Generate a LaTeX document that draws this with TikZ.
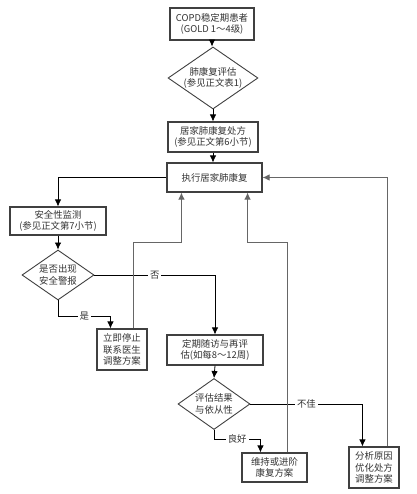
\documentclass[tikz,border=0pt]{standalone}
\usepackage{fontspec}
\setmainfont{Noto Sans CJK SC}
\usetikzlibrary{arrows.meta,shapes.geometric,calc}
\begin{document}
\begin{tikzpicture}[x=1pt,y=-1pt,
  every node/.style={font=\fontsize{9.4}{11.8}\selectfont, text=black!80, align=center, inner sep=0pt},
  box/.style={draw=black!75, line width=1.1pt, fill=white, minimum width=#1},
  box/.default=90pt,
  dia/.style={draw=black!75, line width=0.9pt, diamond, aspect=1.45, fill=white},
  ln/.style={draw=black, line width=0.8pt},
  fb/.style={draw=black!60, line width=0.9pt},
  arr/.style={-{Latex[length=7pt,width=6.5pt]}},
  lbl/.style={fill=white, inner xsep=2pt, inner ysep=1pt}
]
\useasboundingbox (0,0) rectangle (416,494);

\node[box=84pt, minimum height=32pt] (n1) at (212,24) {COPD稳定期患者\\(GOLD 1～4级)};
\node[dia, minimum width=87pt, minimum height=56pt] (d1) at (213,78) {肺康复评估\\(参见正文表1)};
\node[box=90pt, minimum height=30pt] (n3) at (213,137) {居家肺康复处方\\(参见正文第6小节)};
\node[box=95pt, minimum height=29pt] (n4) at (214.5,177.5) {执行居家肺康复};
\node[box=96pt, minimum height=28pt] (n5) at (58,221) {安全性监测\\(参见正文第7小节)};
\node[dia, minimum width=72pt, minimum height=50pt] (d2) at (58,275) {是否出现\\安全警报};
\node[box=50pt, minimum height=41pt] (n6) at (122,349.5) {立即停止\\联系医生\\调整方案};
\node[box=96pt, minimum height=30pt] (n7) at (215,350) {定期随访与再评\\估(如每8～12周)};
\node[dia, minimum width=72pt, minimum height=51pt] (d3) at (214,404) {评估结果\\与依从性};
\node[box=65pt, minimum height=29pt] (n8) at (274.5,467.5) {维持或进阶\\康复方案};
\node[box=50pt, minimum height=41pt] (n9) at (374,467.5) {分析原因\\优化处方\\调整方案};

% main spine
\draw[ln,arr] (n1.south) -- (n1.south |- d1.north);
\draw[ln,arr] (d1.south) -- (d1.south |- n3.north);
\draw[ln,arr] (n3.south) -- (n3.south |- n4.north);
\draw[ln,arr] (n4.west) -| (n5.north);
\draw[ln,arr] (n5.south) -- (d2.north);

% no branch
\draw[ln,arr] (d2.east) -- node[lbl]{否} (d2.east -| n7.north) -- (n7.north);
% yes branch
\coordinate (y1) at ($(n6.north west)+(14,0)$);
\draw[ln,arr] (d2.south) -- ++(0,16) coordinate (c1) -- node[lbl]{是} (c1 -| y1) -- (y1);

\draw[ln,arr] (n7.south) -- (d3.north);
% poor branch
\coordinate (p1) at ($(n9.north west)+(14,0)$);
\draw[ln,arr] (d3.east) -- node[lbl]{不佳} (d3.east -| p1) -- (p1);
% good branch
\coordinate (g1) at ($(n8.north west)+(19,0)$);
\draw[ln,arr] (d3.south) -- ++(0,9) coordinate (c2) -- node[lbl]{良好} (c2 -| g1) -- (g1);

% feedback lines
\coordinate (f1s) at ($(n6.north east)+(-14,0)$);
\coordinate (f1e) at ($(n4.south west)+(15,0)$);
\draw[fb,arr] (f1s) -- (f1s |- 0,242) -- (f1e |- 0,242) -- (f1e);
\coordinate (f2s) at ($(n8.north east)+(-20,0)$);
\coordinate (f2e) at ($(n4.south east)+(-15,0)$);
\draw[fb,arr] (f2s) -- (f2s |- 0,242) -- (f2e |- 0,242) -- (f2e);
\coordinate (f3s) at ($(n9.north east)+(-12,0)$);
\draw[fb,arr] (f3s) -- (f3s |- n4.east) -- (n4.east);
\end{tikzpicture}
\end{document}
